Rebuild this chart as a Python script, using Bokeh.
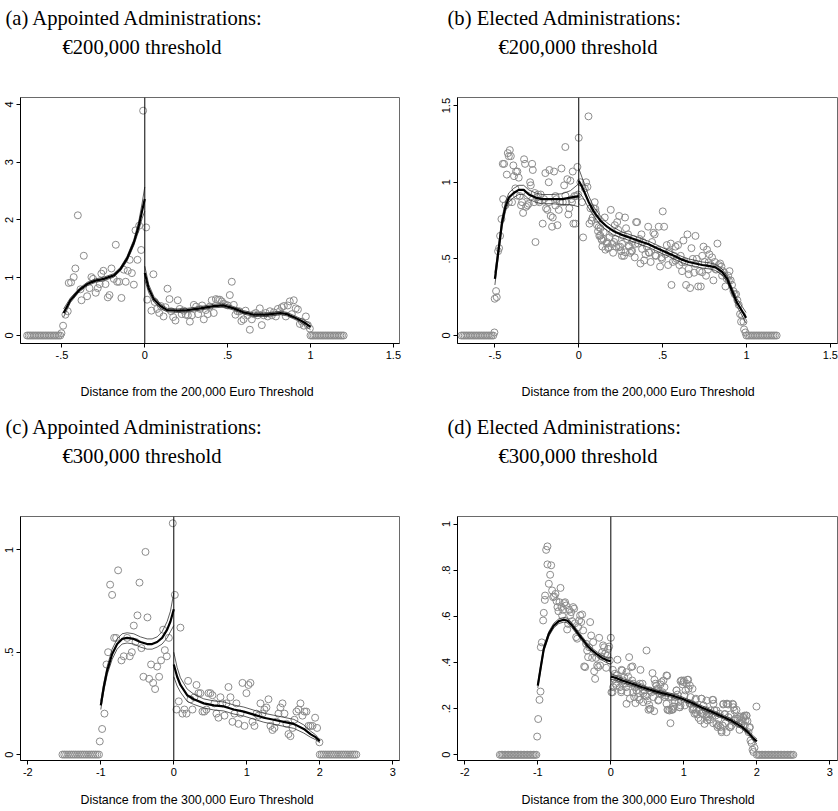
from bokeh.plotting import figure
from bokeh.models import Range1d, FixedTicker, Span, Title, CustomJSTickFormatter
from bokeh.layouts import column, row
from bokeh.embed import file_html
from bokeh.resources import INLINE

# ---------------- DATA ----------------
# Panel (a): appointed, 200,000 threshold
a_zero_x = [-0.71, -0.70, -0.69, -0.68, -0.67, -0.66, -0.65, -0.64, -0.63, -0.62, -0.61,
            -0.60, -0.59, -0.58, -0.57, -0.56, -0.55, -0.54, -0.53, -0.52, -0.51,
            1.00, 1.01, 1.02, 1.03, 1.04, 1.05, 1.06, 1.07, 1.08, 1.09, 1.10,
            1.11, 1.12, 1.13, 1.14, 1.15, 1.16, 1.17, 1.18, 1.19, 1.20]
a_x = [-0.503, -0.493, -0.479, -0.465, -0.459, -0.445, -0.429, -0.419, -0.404, -0.388,
       -0.382, -0.368, -0.348, -0.334, -0.322, -0.312, -0.296, -0.284, -0.272, -0.262,
       -0.250, -0.237, -0.223, -0.213, -0.201, -0.187, -0.175, -0.167, -0.155, -0.141,
       -0.127, -0.115, -0.103, -0.091, -0.078, -0.066, -0.056, -0.044, -0.034, -0.022,
       -0.010,
       0.008, 0.014, 0.040, 0.052, 0.060, 0.074, 0.087, 0.097, 0.113, 0.125,
       0.137, 0.149, 0.159, 0.171, 0.185, 0.199, 0.211, 0.223, 0.235, 0.247,
       0.260, 0.272, 0.284, 0.296, 0.310, 0.322, 0.334, 0.346, 0.356, 0.368,
       0.380, 0.392, 0.404, 0.416, 0.429, 0.441, 0.453, 0.465, 0.477, 0.489,
       0.501, 0.513, 0.525, 0.537, 0.547, 0.559, 0.571, 0.583, 0.596, 0.608,
       0.620, 0.634, 0.646, 0.658, 0.670, 0.682, 0.694, 0.706, 0.718, 0.730,
       0.742, 0.755, 0.767, 0.779, 0.791, 0.803, 0.815, 0.827, 0.839, 0.851,
       0.863, 0.875, 0.887, 0.899, 0.911, 0.924, 0.936, 0.948, 0.960, 0.972,
       0.984, 0.996]
a_y = [0.04, 0.17, 0.36, 0.42, 0.91, 0.92, 1.01, 1.16, 2.08, 0.80,
       0.61, 1.38, 0.68, 0.82, 1.01, 0.98, 0.74, 0.82, 0.89, 1.07,
       1.12, 0.89, 0.66, 0.70, 1.16, 0.98, 1.57, 0.93, 0.93, 0.65,
       1.14, 0.93, 1.12, 1.31, 1.08, 0.88, 1.82, 1.31, 1.90, 1.48,
       3.89,
       1.87, 0.62, 0.43, 1.06, 0.58, 0.46, 0.39, 0.51, 0.33, 0.49,
       0.81, 0.63, 0.42, 0.32, 0.26, 0.61, 0.46, 0.37, 0.43, 0.36,
       0.35, 0.24, 0.35, 0.53, 0.50, 0.37, 0.46, 0.52, 0.28, 0.44,
       0.37, 0.50, 0.61, 0.39, 0.63, 0.62, 0.62, 0.59, 0.55, 0.53,
       0.52, 0.70, 0.93, 0.53, 0.36, 0.42, 0.42, 0.25, 0.28, 0.43,
       0.35, 0.10, 0.28, 0.37, 0.39, 0.35, 0.47, 0.18, 0.35, 0.39,
       0.33, 0.42, 0.35, 0.40, 0.33, 0.46, 0.42, 0.49, 0.51, 0.33,
       0.52, 0.59, 0.37, 0.61, 0.47, 0.45, 0.20, 0.24, 0.17, 0.33,
       0.18, 0.12]
a_fitL_x = [-0.49, -0.449, -0.398, -0.348, -0.298, -0.247, -0.187, -0.147, -0.107, -0.066, -0.036, -0.016, 0.0]
a_fitL_y = [0.39, 0.61, 0.78, 0.89, 0.95, 0.98, 1.04, 1.15, 1.33, 1.61, 1.90, 2.16, 2.36]
a_fitL_lo = [0.32, 0.57, 0.75, 0.86, 0.92, 0.95, 1.01, 1.12, 1.29, 1.56, 1.82, 2.03, 2.15]
a_fitL_hi = [0.46, 0.65, 0.81, 0.92, 0.98, 1.01, 1.07, 1.18, 1.37, 1.66, 1.98, 2.29, 2.57]
a_fitR_x = [0.0, 0.024, 0.054, 0.095, 0.135, 0.195, 0.256, 0.336, 0.416, 0.477, 0.537, 0.598, 0.658, 0.738, 0.819, 0.859, 0.920, 0.960, 1.0]
a_fitR_y = [1.08, 0.81, 0.63, 0.51, 0.44, 0.43, 0.44, 0.47, 0.51, 0.52, 0.47, 0.40, 0.36, 0.36, 0.39, 0.37, 0.29, 0.23, 0.15]
a_fitR_lo = [0.96, 0.74, 0.58, 0.47, 0.41, 0.40, 0.41, 0.44, 0.48, 0.49, 0.44, 0.37, 0.33, 0.33, 0.36, 0.34, 0.26, 0.19, 0.10]
a_fitR_hi = [1.20, 0.88, 0.68, 0.55, 0.47, 0.46, 0.47, 0.50, 0.54, 0.55, 0.50, 0.43, 0.39, 0.39, 0.42, 0.40, 0.32, 0.27, 0.20]

# Panel (b): elected, 200,000 threshold
b_zero_x = [-0.70, -0.69, -0.68, -0.67, -0.66, -0.65, -0.64, -0.63, -0.62, -0.61,
            -0.60, -0.59, -0.58, -0.57, -0.56, -0.55, -0.54, -0.53, -0.52, -0.51,
            1.00, 1.01, 1.02, 1.03, 1.04, 1.05, 1.06, 1.07, 1.08, 1.09,
            1.10, 1.11, 1.12, 1.13, 1.14, 1.15, 1.16, 1.17, 1.18]
b_x = [-0.503, -0.501, -0.489, -0.493, -0.481, -0.475, -0.469, -0.461, -0.451, -0.445,
       -0.453, -0.437, -0.429, -0.423, -0.417, -0.411, -0.405, -0.417, -0.398, -0.390,
       -0.386, -0.378, -0.374, -0.366, -0.358, -0.352, -0.344, -0.332, -0.326, -0.320,
       -0.314, -0.306, -0.298, -0.290, -0.286, -0.278, -0.274, -0.266, -0.262, -0.258,
       -0.250, -0.243, -0.235, -0.227, -0.215, -0.207, -0.199, -0.195, -0.187, -0.179,
       -0.175, -0.167, -0.159, -0.155, -0.147, -0.139, -0.133, -0.127, -0.119, -0.113,
       -0.103, -0.095, -0.087, -0.080, -0.074, -0.068, -0.062, -0.056, -0.050, -0.044,
       -0.036, -0.032, -0.026, -0.020, -0.016, -0.008, -0.004,
       -0.368, -0.338, -0.308, -0.239, -0.179, -0.139, -0.080, -0.040,
       0.000, 0.010, 0.020, 0.026, 0.036, 0.044, 0.052, 0.058, 0.064, 0.070,
       0.076, 0.083, 0.089, 0.095, 0.103, 0.109, 0.115, 0.123, 0.129, 0.135,
       0.141, 0.147, 0.155, 0.159, 0.167, 0.175, 0.183, 0.191, 0.199, 0.205,
       0.211, 0.215, 0.223, 0.229, 0.235, 0.241, 0.247, 0.252, 0.258, 0.264,
       0.270, 0.276, 0.282, 0.288, 0.294, 0.300, 0.306, 0.314, 0.318, 0.326,
       0.334, 0.342, 0.348, 0.354, 0.362, 0.368, 0.374, 0.382, 0.390, 0.398,
       0.406, 0.414, 0.421, 0.429, 0.437, 0.445, 0.453, 0.461, 0.469, 0.477,
       0.485, 0.493, 0.501, 0.509, 0.517, 0.525, 0.533, 0.541, 0.549, 0.553,
       0.561, 0.569, 0.577, 0.584, 0.592, 0.600, 0.608, 0.616, 0.624, 0.632,
       0.640, 0.648, 0.656, 0.664, 0.672, 0.680, 0.688, 0.696, 0.704, 0.712,
       0.720, 0.728, 0.736, 0.744, 0.751, 0.759, 0.765, 0.771, 0.779, 0.787,
       0.795, 0.803, 0.811, 0.819, 0.827, 0.835, 0.843, 0.851, 0.859, 0.867,
       0.875, 0.883, 0.891, 0.899, 0.906, 0.914, 0.922, 0.930, 0.938, 0.946,
       0.954, 0.962, 0.968, 0.974, 0.982, 0.986, 0.994,
       0.099, 0.109, 0.119, 0.129, 0.139, 0.149, 0.169, 0.179, 0.199, 0.219,
       0.239, 0.258, 0.278, 0.298, 0.318, 0.338, 0.378, 0.417, 0.457, 0.497,
       0.537, 0.577, 0.616, 0.656, 0.696, 0.736, 0.775, 0.815, 0.855, 0.895]
b_y = [0.02, 0.24, 0.25, 0.29, 0.55, 0.57, 0.65, 0.76, 0.89, 1.12,
       1.12, 0.85, 1.05, 1.19, 1.17, 1.21, 1.17, 0.87, 0.87, 1.11,
       1.04, 0.96, 1.07, 1.07, 1.03, 0.91, 0.85, 0.80, 1.15, 1.12,
       0.84, 0.85, 0.86, 1.00, 0.98, 1.12, 1.08, 0.87, 0.93, 0.61,
       0.90, 0.92, 0.87, 0.92, 0.73, 0.89, 1.06, 0.83, 0.82, 1.00,
       1.08, 0.78, 0.71, 0.77, 1.07, 0.91, 0.89, 0.72, 0.82, 0.87,
       1.09, 0.87, 0.98, 1.23, 0.87, 1.02, 0.79, 0.83, 1.01, 0.89,
       1.07, 0.73, 0.91, 0.73, 0.91, 1.10, 0.92,
       0.913, 0.870, 0.913, 0.880, 0.870, 0.848, 0.913, 0.870,
       1.29, 1.00, 0.87, 0.64, 0.96, 1.00, 0.97, 1.43, 0.73, 0.83,
       0.75, 0.77, 0.83, 0.87, 0.80, 0.72, 0.68, 0.65, 0.70, 0.63,
       0.58, 0.63, 0.77, 0.56, 0.60, 0.57, 0.64, 0.82, 0.67, 0.54,
       0.61, 0.72, 0.58, 0.74, 0.69, 0.78, 0.58, 0.55, 0.52, 0.65,
       0.52, 0.77, 0.70, 0.63, 0.66, 0.58, 0.54, 0.55, 0.61, 0.63,
       0.51, 0.74, 0.74, 0.60, 0.63, 0.47, 0.66, 0.61, 0.49, 0.53,
       0.58, 0.71, 0.54, 0.48, 0.61, 0.67, 0.66, 0.52, 0.56, 0.71,
       0.45, 0.51, 0.81, 0.71, 0.53, 0.59, 0.46, 0.55, 0.60, 0.33,
       0.48, 0.52, 0.58, 0.50, 0.59, 0.46, 0.52, 0.42, 0.62, 0.48,
       0.33, 0.66, 0.40, 0.31, 0.57, 0.50, 0.41, 0.65, 0.50, 0.32,
       0.42, 0.32, 0.52, 0.58, 0.48, 0.39, 0.56, 0.43, 0.53, 0.46,
       0.51, 0.36, 0.48, 0.43, 0.60, 0.46, 0.47, 0.45, 0.42, 0.41,
       0.32, 0.37, 0.39, 0.42, 0.36, 0.33, 0.29, 0.27, 0.27, 0.23,
       0.20, 0.14, 0.09, 0.13, 0.09, 0.04, 0.02,
       0.826, 0.761, 0.707, 0.652, 0.620, 0.674, 0.609, 0.576, 0.598, 0.630,
       0.576, 0.598, 0.543, 0.587, 0.554, 0.598, 0.565, 0.543, 0.522, 0.500,
       0.543, 0.489, 0.478, 0.435, 0.467, 0.413, 0.478, 0.435, 0.391, 0.359]
b_fitL_x = [-0.5, -0.478, -0.457, -0.437, -0.417, -0.388, -0.358, -0.328, -0.298, -0.258, -0.219, -0.159, -0.099, -0.050, 0.0]
b_fitL_y = [0.37, 0.56, 0.74, 0.84, 0.90, 0.93, 0.95, 0.95, 0.92, 0.90, 0.89, 0.89, 0.89, 0.90, 0.91]
b_fitL_lo = [0.33, 0.53, 0.71, 0.81, 0.87, 0.90, 0.92, 0.92, 0.89, 0.87, 0.86, 0.86, 0.855, 0.855, 0.84]
b_fitL_hi = [0.41, 0.59, 0.77, 0.87, 0.93, 0.96, 0.98, 0.98, 0.95, 0.93, 0.92, 0.92, 0.925, 0.945, 0.99]
b_fitR_x = [0.0, 0.020, 0.040, 0.060, 0.089, 0.129, 0.169, 0.209, 0.249, 0.289, 0.328, 0.378, 0.417, 0.457, 0.497,
            0.537, 0.577, 0.616, 0.656, 0.696, 0.736, 0.775, 0.815, 0.855, 0.885, 0.915, 0.944, 0.974, 0.998]
b_fitR_y = [1.01, 0.97, 0.92, 0.87, 0.81, 0.75, 0.71, 0.68, 0.66, 0.645, 0.63, 0.61, 0.595, 0.575, 0.555,
            0.535, 0.515, 0.495, 0.48, 0.47, 0.46, 0.455, 0.445, 0.415, 0.37, 0.29, 0.215, 0.16, 0.115]
b_fitR_lo = [0.93, 0.91, 0.87, 0.83, 0.78, 0.72, 0.685, 0.655, 0.64, 0.625, 0.61, 0.59, 0.575, 0.555, 0.535,
             0.515, 0.495, 0.475, 0.46, 0.45, 0.44, 0.435, 0.425, 0.395, 0.35, 0.27, 0.19, 0.13, 0.08]
b_fitR_hi = [1.09, 1.03, 0.97, 0.91, 0.84, 0.78, 0.735, 0.705, 0.68, 0.665, 0.65, 0.63, 0.615, 0.595, 0.575,
             0.555, 0.535, 0.515, 0.50, 0.49, 0.48, 0.475, 0.465, 0.435, 0.39, 0.31, 0.24, 0.19, 0.15]

# Panel (c): appointed, 300,000 threshold
c_zero_x = [-1.525, -1.500, -1.475, -1.450, -1.425, -1.400, -1.375, -1.350, -1.325, -1.300, -1.275,
            -1.250, -1.225, -1.200, -1.175, -1.150, -1.125, -1.100, -1.075, -1.050, -1.025,
            2.000, 2.025, 2.050, 2.075, 2.100, 2.125, 2.150, 2.175, 2.200, 2.225, 2.250,
            2.275, 2.300, 2.325, 2.350, 2.375, 2.400, 2.425, 2.450, 2.475, 2.500]
c_x = [-1.014, -0.982, -0.950, -0.922, -0.900, -0.872, -0.845, -0.817, -0.790, -0.763,
       -0.717, -0.685, -0.639, -0.603, -0.575, -0.548, -0.525, -0.498, -0.470, -0.443,
       -0.416, -0.388, -0.361, -0.338, -0.311, -0.283, -0.256, -0.228, -0.201, -0.174,
       -0.146, -0.123, -0.096, -0.068, -0.014,
       0.014, 0.037, 0.068, 0.091, 0.119, 0.146, 0.174, 0.196, 0.228, 0.256,
       0.283, 0.311, 0.338, 0.365, 0.393, 0.420, 0.447, 0.475, 0.502, 0.530,
       0.557, 0.584, 0.612, 0.639, 0.667, 0.694, 0.721, 0.749, 0.776, 0.804,
       0.831, 0.858, 0.886, 0.913, 0.941, 0.968, 0.995, 1.023, 1.050, 1.078,
       1.105, 1.132, 1.160, 1.187, 1.215, 1.242, 1.269, 1.297, 1.324, 1.352,
       1.379, 1.406, 1.434, 1.461, 1.489, 1.516, 1.543, 1.571, 1.598, 1.626,
       1.653, 1.680, 1.708, 1.735, 1.763, 1.790, 1.817, 1.845, 1.872, 1.900,
       1.936, 1.963, 1.995]
c_y = [0.064, 0.125, 0.20, 0.44, 0.50, 0.83, 0.78, 0.57, 0.57, 0.90,
       0.46, 0.48, 0.57, 0.48, 0.50, 0.63, 0.55, 0.68, 0.84, 0.52,
       0.38, 0.99, 0.67, 0.37, 0.44, 0.35, 0.32, 0.43, 0.38, 0.46,
       0.61, 0.51, 0.48, 0.57, 1.13,
       0.78, 0.22, 0.26, 0.62, 0.20, 0.22, 0.20, 0.36, 0.27, 0.22,
       0.28, 0.34, 0.30, 0.30, 0.21, 0.21, 0.22, 0.30, 0.30, 0.29,
       0.25, 0.20, 0.18, 0.28, 0.25, 0.19, 0.25, 0.33, 0.28, 0.16,
       0.20, 0.25, 0.15, 0.20, 0.35, 0.14, 0.30, 0.34, 0.35, 0.16,
       0.14, 0.20, 0.19, 0.25, 0.20, 0.22, 0.23, 0.27, 0.14, 0.12,
       0.13, 0.16, 0.20, 0.23, 0.25, 0.20, 0.15, 0.10, 0.09, 0.13,
       0.17, 0.21, 0.22, 0.25, 0.19, 0.21, 0.21, 0.14, 0.14, 0.14,
       0.18, 0.13, 0.06]
c_fitL_x = [-1.0, -0.959, -0.913, -0.845, -0.776, -0.708, -0.639, -0.548, -0.457, -0.365, -0.297, -0.228, -0.160, -0.091, -0.046, 0.0]
c_fitL_y = [0.24, 0.33, 0.41, 0.49, 0.54, 0.565, 0.57, 0.565, 0.55, 0.54, 0.54, 0.55, 0.57, 0.61, 0.65, 0.71]
c_fitL_lo = [0.22, 0.31, 0.39, 0.465, 0.515, 0.54, 0.545, 0.54, 0.525, 0.515, 0.515, 0.525, 0.54, 0.57, 0.60, 0.63]
c_fitL_hi = [0.26, 0.35, 0.43, 0.515, 0.565, 0.59, 0.595, 0.59, 0.575, 0.565, 0.565, 0.575, 0.60, 0.65, 0.70, 0.79]
c_fitR_x = [0.0, 0.046, 0.091, 0.183, 0.274, 0.411, 0.548, 0.685, 0.822, 0.959, 1.096, 1.233, 1.370, 1.507, 1.644, 1.781, 1.872, 1.941, 2.0]
c_fitR_y = [0.44, 0.38, 0.34, 0.29, 0.27, 0.25, 0.24, 0.235, 0.22, 0.21, 0.195, 0.18, 0.17, 0.16, 0.15, 0.125, 0.10, 0.085, 0.065]
c_fitR_lo = [0.38, 0.335, 0.305, 0.26, 0.245, 0.228, 0.218, 0.213, 0.198, 0.188, 0.173, 0.158, 0.148, 0.138, 0.128, 0.105, 0.085, 0.073, 0.058]
c_fitR_hi = [0.50, 0.425, 0.375, 0.32, 0.295, 0.272, 0.262, 0.257, 0.242, 0.232, 0.217, 0.202, 0.192, 0.182, 0.172, 0.145, 0.115, 0.097, 0.072]

# Panel (d): elected, 300,000 threshold
d_zero_x = [-1.52, -1.50, -1.48, -1.46, -1.44, -1.42, -1.40, -1.38, -1.36, -1.34, -1.32, -1.30, -1.28, -1.26,
            -1.24, -1.22, -1.20, -1.18, -1.16, -1.14, -1.12, -1.10, -1.08, -1.06, -1.04, -1.02,
            2.00, 2.02, 2.04, 2.06, 2.08, 2.10, 2.12, 2.14, 2.16, 2.18, 2.20, 2.22, 2.24,
            2.26, 2.28, 2.30, 2.32, 2.34, 2.36, 2.38, 2.40, 2.42, 2.44, 2.46, 2.48, 2.50]
d_x = [-1.009, -0.995, -0.977, -0.963, -0.959, -0.945, -0.927, -0.918, -0.904, -0.900,
       -0.886, -0.868, -0.868, -0.849, -0.831, -0.817, -0.804, -0.790, -0.776, -0.758,
       -0.744, -0.731, -0.717, -0.703, -0.689, -0.676, -0.667, -0.653, -0.639, -0.626,
       -0.612, -0.598, -0.584, -0.571, -0.557, -0.543, -0.530, -0.516, -0.502, -0.489,
       -0.475, -0.461, -0.447, -0.434, -0.420, -0.406, -0.393, -0.379, -0.365, -0.352,
       -0.338, -0.324, -0.311, -0.297, -0.283, -0.269, -0.256, -0.242, -0.228, -0.215,
       -0.201, -0.187, -0.174, -0.160, -0.146, -0.132, -0.119, -0.105, -0.091, -0.078,
       -0.064, -0.050, -0.037, -0.023, -0.014, 0.000,
       0.009, 0.027, 0.046, 0.064, 0.082, 0.091, 0.110, 0.123, 0.142, 0.155,
       0.169, 0.183, 0.196, 0.210, 0.224, 0.237, 0.251, 0.265, 0.279, 0.292,
       0.306, 0.320, 0.338, 0.352, 0.365, 0.379, 0.393, 0.406, 0.420, 0.434,
       0.447, 0.461, 0.475, 0.489, 0.502, 0.516, 0.530, 0.543, 0.557, 0.571,
       0.584, 0.598, 0.612, 0.626, 0.639, 0.653, 0.667, 0.680, 0.694, 0.708,
       0.721, 0.735, 0.749, 0.763, 0.776, 0.790, 0.804, 0.817, 0.831, 0.845,
       0.858, 0.872, 0.886, 0.900, 0.913, 0.927, 0.941, 0.954, 0.968, 0.982,
       0.995, 1.009, 1.023, 1.037, 1.050, 1.064, 1.078, 1.091, 1.105, 1.119,
       1.132, 1.146, 1.160, 1.173, 1.187, 1.201, 1.215, 1.228, 1.242, 1.256,
       1.269, 1.283, 1.297, 1.311, 1.324, 1.338, 1.352, 1.365, 1.379, 1.393,
       1.406, 1.420, 1.434, 1.447, 1.461, 1.475, 1.489, 1.502, 1.516, 1.530,
       1.543, 1.557, 1.571, 1.584, 1.598, 1.612, 1.626, 1.639, 1.653, 1.667,
       1.680, 1.694, 1.708, 1.721, 1.735, 1.749, 1.763, 1.776, 1.790, 1.804,
       1.817, 1.831, 1.845, 1.858, 1.872, 1.886, 1.900, 1.913, 1.927, 1.941,
       1.954, 1.968, 1.995,
       0.055, 0.147, 0.215, 0.297, 0.772, 0.101, 0.169, 0.032, 0.078, 0.146,
       0.023, 0.306, 0.375, 0.329, 0.398, 0.525, 0.594, 0.535, 0.786, 0.831,
       0.955, 1.001, 1.060, 1.083, 1.119, 0.946, 1.014, 1.083, 1.165, 1.242,
       1.311, 1.402, 1.539, 1.608, 1.676, 1.165, 1.242, 1.311, 1.357, 1.402,
       1.471, 1.517, 1.585, 1.640, 1.699, 1.758, 1.813, 1.859, 1.904, 1.836,
       0.626, 0.694, 0.740, 0.877, 0.900, 0.489, 0.443, 0.261, 0.215, 0.649,
       0.763, 0.854, 1.128, 1.448, 1.562]
d_y = [0.079, 0.155, 0.238, 0.274, 0.466, 0.487, 0.582, 0.615, 0.671, 0.690,
       0.888, 0.903, 0.825, 0.741, 0.780, 0.821, 0.712, 0.683, 0.686, 0.697,
       0.666, 0.640, 0.622, 0.661, 0.723, 0.640, 0.604, 0.628, 0.657, 0.661,
       0.647, 0.543, 0.567, 0.628, 0.604, 0.618, 0.579, 0.640, 0.633, 0.570,
       0.510, 0.503, 0.553, 0.582, 0.604, 0.575, 0.608, 0.539, 0.383, 0.380,
       0.481, 0.452, 0.423, 0.466, 0.575, 0.517, 0.420, 0.488, 0.362, 0.329,
       0.420, 0.387, 0.380, 0.507, 0.387, 0.426, 0.445, 0.474, 0.466, 0.438,
       0.377, 0.430, 0.459, 0.469, 0.409, 0.507,
       0.271, 0.368, 0.329, 0.308, 0.344, 0.412, 0.329, 0.293, 0.271, 0.365,
       0.308, 0.336, 0.308, 0.293, 0.271, 0.339, 0.423, 0.308, 0.380, 0.322,
       0.308, 0.250, 0.224, 0.279, 0.300, 0.267, 0.238, 0.368, 0.293, 0.308,
       0.267, 0.279, 0.257, 0.452, 0.235, 0.195, 0.279, 0.199, 0.271, 0.354,
       0.250, 0.325, 0.308, 0.300, 0.286, 0.238, 0.267, 0.305, 0.315, 0.271,
       0.322, 0.293, 0.257, 0.344, 0.195, 0.250, 0.192, 0.137, 0.250, 0.195,
       0.209, 0.228, 0.250, 0.279, 0.261, 0.228, 0.206, 0.214, 0.322, 0.305,
       0.315, 0.257, 0.279, 0.308, 0.325, 0.286, 0.224, 0.250, 0.221, 0.195,
       0.206, 0.178, 0.238, 0.195, 0.175, 0.160, 0.192, 0.149, 0.243, 0.178,
       0.214, 0.134, 0.195, 0.175, 0.149, 0.163, 0.178, 0.192, 0.175, 0.238,
       0.221, 0.192, 0.170, 0.134, 0.120, 0.156, 0.178, 0.120, 0.105, 0.127,
       0.221, 0.175, 0.137, 0.221, 0.221, 0.163, 0.120, 0.175, 0.127, 0.221,
       0.206, 0.192, 0.156, 0.195, 0.156, 0.134, 0.108, 0.166, 0.134, 0.146,
       0.160, 0.170, 0.149, 0.170, 0.146, 0.098, 0.117, 0.062, 0.051, 0.022,
       0.012, 0.030, 0.209,
       0.351, 0.368, 0.358, 0.383, 0.342, 0.329, 0.322, 0.293, 0.300, 0.279,
       0.271, 0.271, 0.250, 0.293, 0.308, 0.217, 0.189, 0.199, 0.195, 0.195,
       0.319, 0.322, 0.325, 0.300, 0.286, 0.206, 0.214, 0.221, 0.243, 0.243,
       0.235, 0.238, 0.218, 0.218, 0.218, 0.181, 0.181, 0.166, 0.152, 0.137,
       0.127, 0.098, 0.098, 0.120, 0.149, 0.163, 0.166, 0.170, 0.120, 0.127,
       0.279, 0.264, 0.250, 0.235, 0.279, 0.253, 0.228, 0.243, 0.221, 0.235,
       0.221, 0.199, 0.199, 0.192, 0.177]
d_fitL_x = [-1.0, -0.963, -0.918, -0.849, -0.781, -0.712, -0.644, -0.598, -0.530, -0.461, -0.393, -0.324, -0.256, -0.187, -0.119, -0.050, 0.0]
d_fitL_y = [0.30, 0.373, 0.459, 0.524, 0.560, 0.579, 0.585, 0.582, 0.560, 0.531, 0.503, 0.474, 0.452, 0.435, 0.420, 0.409, 0.406]
d_fitL_lo = [0.29, 0.363, 0.449, 0.514, 0.550, 0.569, 0.575, 0.572, 0.550, 0.521, 0.493, 0.464, 0.442, 0.425, 0.410, 0.398, 0.392]
d_fitL_hi = [0.31, 0.383, 0.469, 0.534, 0.570, 0.589, 0.595, 0.592, 0.570, 0.541, 0.513, 0.484, 0.462, 0.445, 0.430, 0.420, 0.420]
d_fitR_x = [0.0, 0.064, 0.155, 0.292, 0.429, 0.566, 0.703, 0.840, 0.977, 1.114, 1.251, 1.388, 1.525, 1.662, 1.799, 1.890, 1.959, 2.0]
d_fitR_y = [0.339, 0.334, 0.322, 0.308, 0.293, 0.279, 0.267, 0.257, 0.243, 0.224, 0.204, 0.185, 0.166, 0.146, 0.120, 0.094, 0.069, 0.058]
d_fitR_lo = [0.327, 0.324, 0.313, 0.300, 0.285, 0.271, 0.259, 0.249, 0.235, 0.216, 0.196, 0.177, 0.158, 0.138, 0.111, 0.085, 0.059, 0.047]
d_fitR_hi = [0.351, 0.344, 0.331, 0.316, 0.301, 0.287, 0.275, 0.265, 0.251, 0.232, 0.212, 0.193, 0.174, 0.154, 0.129, 0.103, 0.079, 0.069]

a_xticks = [-0.5, 0, 0.5, 1, 1.5]
a_yticks = [0, 1, 2, 3, 4]
b_xticks = [-0.5, 0, 0.5, 1, 1.5]
b_yticks = [0, 0.5, 1, 1.5]
c_xticks = [-2, -1, 0, 1, 2, 3]
c_yticks = [0, 0.5, 1]
d_xticks = [-2, -1, 0, 1, 2, 3]
d_yticks = [0, 0.2, 0.4, 0.6, 0.8, 1]

title_l1 = ["(a) Appointed Administrations:", "(b) Elected Administrations:",
            "(c) Appointed Administrations:", "(d) Elected Administrations:"]
title_l2 = ["\u20ac200,000 threshold", "\u20ac200,000 threshold",
            "\u20ac300,000 threshold", "\u20ac300,000 threshold"]
xlabels = ["Distance from the 200,000 Euro Threshold", "Distance from the 200,000 Euro Threshold",
           "Distance from the 300,000 Euro Threshold", "Distance from the 300,000 Euro Threshold"]

# ---------------- LAYOUT ----------------
panels = [
    dict(size=(419, 405), border=(20, 97, 20, 62), xr=(-0.750, 1.537), yr=(-0.138, 4.118),
         zx=a_zero_x, x=a_x, y=a_y,
         fits=[(a_fitL_x, a_fitL_y, a_fitL_lo, a_fitL_hi), (a_fitR_x, a_fitR_y, a_fitR_lo, a_fitR_hi)],
         xt=a_xticks, yt=a_yticks, off1=-15, off2=42, offx=60, topgap=33, botgap=19),
    dict(size=(419, 405), border=(38, 97, 1, 62), xr=(-0.723, 1.543), yr=(-0.052, 1.553),
         zx=b_zero_x, x=b_x, y=b_y,
         fits=[(b_fitL_x, b_fitL_y, b_fitL_lo, b_fitL_hi), (b_fitR_x, b_fitR_y, b_fitR_lo, b_fitR_hi)],
         xt=b_xticks, yt=b_yticks, off1=-10, off2=41, offx=64, topgap=33, botgap=19),
    dict(size=(419, 406), border=(20, 111, 20, 51), xr=(-2.100, 3.092), yr=(-0.029, 1.163),
         zx=c_zero_x, x=c_x, y=c_y,
         fits=[(c_fitL_x, c_fitL_y, c_fitL_lo, c_fitL_hi), (c_fitR_x, c_fitR_y, c_fitR_lo, c_fitR_hi)],
         xt=c_xticks, yt=c_yticks, off1=-15, off2=42, offx=60, topgap=43, botgap=10),
    dict(size=(419, 406), border=(38, 111, 1, 51), xr=(-2.100, 3.105), yr=(-0.0247, 1.0325),
         zx=d_zero_x, x=d_x, y=d_y,
         fits=[(d_fitL_x, d_fitL_y, d_fitL_lo, d_fitL_hi), (d_fitR_x, d_fitR_y, d_fitR_lo, d_fitR_hi)],
         xt=d_xticks, yt=d_yticks, off1=-10, off2=41, offx=64, topgap=43, botgap=10),
]

fmt_code = """
var v = Math.round(tick * 1000) / 1000;
var s = v.toString();
if (s.indexOf("0.") === 0) { s = s.slice(1); }
else if (s.indexOf("-0.") === 0) { s = "-" + s.slice(2); }
return s;
"""

SANS = "Liberation Sans"
SERIF = "Liberation Serif"


def build(i, P):
    W, H = P["size"]
    bl, bt, br, bb = P["border"]
    x0, x1 = P["xr"]
    y0, y1 = P["yr"]
    p = figure(width=W, height=H, output_backend="svg", toolbar_location=None,
               x_range=Range1d(x0, x1), y_range=Range1d(y0, y1),
               min_border_left=bl, min_border_right=br,
               min_border_top=bt, min_border_bottom=bb)
    p.background_fill_color = "white"
    p.border_fill_color = "white"
    p.outline_line_color = "#6a6a6a"
    p.outline_line_width = 1
    p.xgrid.visible = False
    p.ygrid.visible = False
    for ax, ticks in ((p.xaxis[0], P["xt"]), (p.yaxis[0], P["yt"])):
        ax.ticker = FixedTicker(ticks=ticks)
        ax.formatter = CustomJSTickFormatter(code=fmt_code)
        ax.major_tick_out = 4
        ax.major_tick_in = 0
        ax.minor_tick_line_color = None
        ax.axis_line_color = "black"
        ax.major_tick_line_color = "black"
        ax.major_label_text_font = SANS
        ax.major_label_text_font_size = "11px"
        ax.major_label_text_color = "black"
        ax.major_label_standoff = 3
    p.yaxis[0].major_label_orientation = "parallel"

    # scatter (empty bins at zero + other bins)
    p.scatter(P["zx"], [0.0] * len(P["zx"]), marker="circle", size=7, fill_color=None,
              line_color="#8c8c8c", line_width=1)
    n = min(len(P["x"]), len(P["y"]))
    p.scatter(P["x"][:n], P["y"][:n], marker="circle", size=7, fill_color=None,
              line_color="#8c8c8c", line_width=1)
    # fitted curves with confidence bands
    for fx, fy, flo, fhi in P["fits"]:
        p.line(fx, flo, line_color="#333333", line_width=0.8)
        p.line(fx, fhi, line_color="#333333", line_width=0.8)
        p.line(fx, fy, line_color="black", line_width=2.2)
    p.add_layout(Span(location=0, dimension="height", line_color="black", line_width=1))

    # titles (above): spacer nearest the frame, then line 2, then line 1
    p.add_layout(Title(text=" ", text_font_size="1px", standoff=P["topgap"]), "above")
    p.add_layout(Title(text=title_l2[i], text_font=SERIF, text_font_size="20.6px", text_font_style="normal",
                       align="left", offset=P["off2"], standoff=5, vertical_align="middle",
                       text_color="black"), "above")
    p.add_layout(Title(text=title_l1[i], text_font=SERIF, text_font_size="20.6px", text_font_style="normal",
                       align="left", offset=P["off1"], standoff=5, vertical_align="middle",
                       text_color="black"), "above")
    # axis title (below): spacer after the axis, then the label
    p.add_layout(Title(text=" ", text_font_size="1px", standoff=P["botgap"]), "below")
    p.add_layout(Title(text=xlabels[i], text_font=SANS, text_font_size="12.4px", text_font_style="normal",
                       align="left", offset=P["offx"], standoff=0, vertical_align="middle",
                       text_color="black"), "below")
    return p


figs = [build(i, P) for i, P in enumerate(panels)]
layout = column(row(figs[0], figs[1], spacing=0), row(figs[2], figs[3], spacing=0), spacing=0)

open("out.html", "w").write(file_html(layout, INLINE))
